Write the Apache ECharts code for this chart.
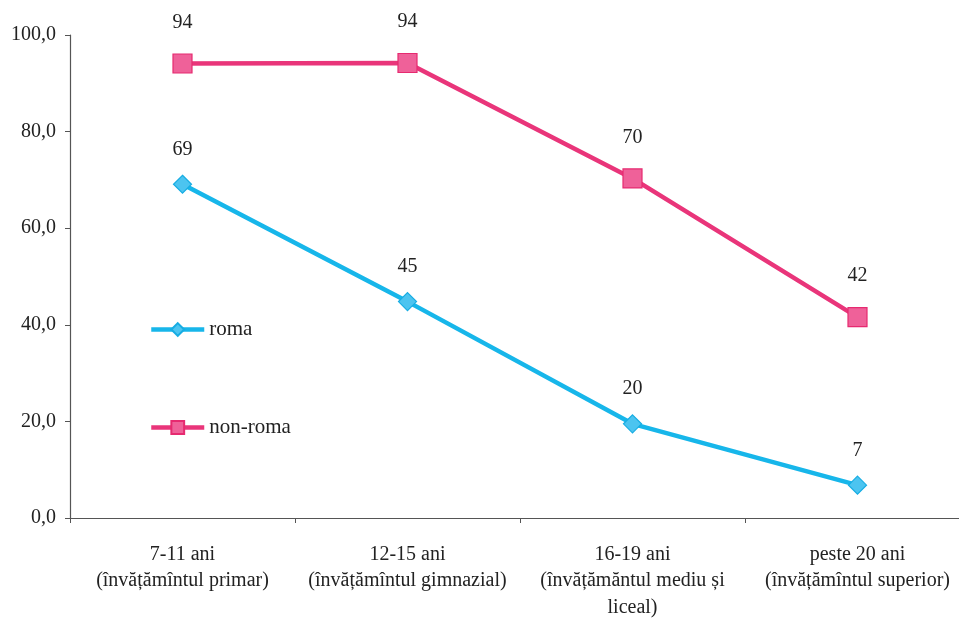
<!DOCTYPE html>
<html>
<head>
<meta charset="utf-8">
<script src="https://cdn.jsdelivr.net/npm/echarts@6/dist/echarts.min.js"></script>
<style>html,body{margin:0;padding:0;background:#fff;overflow:hidden;width:959px;height:621px}#c{width:970px;height:621px}</style>
</head>
<body>
<div id="c"></div>
<script>
const categories = ['7-11 ani\n(învățămîntul primar)', '12-15 ani\n(învățămîntul gimnazial)', '16-19 ani\n(învățămăntul mediu și\nliceal)', 'peste 20 ani\n(învățămîntul superior)'];
const roma = [69.1, 44.8, 19.5, 6.8];
const nonRoma = [94.1, 94.2, 70.3, 41.6];
const seriesNames = ['roma', 'non-roma'];

const FONT = '"Liberation Serif", "DejaVu Serif", serif';
const chart = echarts.init(document.getElementById('c'));
chart.setOption({
  animation: false,
  backgroundColor: '#fff',
  textStyle: { fontFamily: FONT },
  grid: { left: 70, right: 0, top: 35, bottom: 103 },
  legend: {
    orient: 'vertical', left: 144, top: 314, itemGap: 77,
    itemWidth: 53, itemHeight: 16,
    lineStyle: { width: 4.5 },
    textStyle: { fontFamily: FONT, fontSize: 21, color: '#222' },
    data: seriesNames
  },
  xAxis: {
    type: 'category', data: categories, boundaryGap: true,
    axisLine: { lineStyle: { color: '#555', width: 1.2 } },
    axisTick: { show: true, length: 5, lineStyle: { color: '#555' } },
    axisLabel: { fontFamily: FONT, fontSize: 20, color: '#222', lineHeight: 26.5, margin: 23, interval: 0 }
  },
  yAxis: {
    type: 'value', min: 0, max: 100, interval: 20,
    splitLine: { show: false },
    axisLine: { show: true, lineStyle: { color: '#555', width: 1.2 } },
    axisTick: { show: true, length: 5, lineStyle: { color: '#555' } },
    axisLabel: { fontFamily: FONT, fontSize: 20, color: '#222', margin: 14,
      formatter: v => v.toFixed(1).replace('.', ',') }
  },
  series: [
    {
      name: 'roma', type: 'line', data: roma,
      symbol: 'diamond', symbolSize: 18,
      lineStyle: { color: '#17b6ea', width: 4.5 },
      itemStyle: { color: '#4cc4f0', borderColor: '#17ade3', borderWidth: 1.2 },
      label: { show: true, position: 'top', distance: 15, fontFamily: FONT, fontSize: 20, color: '#222',
        formatter: p => Math.round(p.value) }
    },
    {
      name: 'non-roma', type: 'line', data: nonRoma,
      symbol: 'rect', symbolSize: 19,
      lineStyle: { color: '#e9357a', width: 4.5 },
      itemStyle: { color: '#ef6199', borderColor: '#e62a70', borderWidth: 1.2 },
      label: { show: true, position: 'top', distance: 21, fontFamily: FONT, fontSize: 20, color: '#222',
        formatter: p => Math.round(p.value) }
    }
  ]
});
</script>
</body>
</html>
